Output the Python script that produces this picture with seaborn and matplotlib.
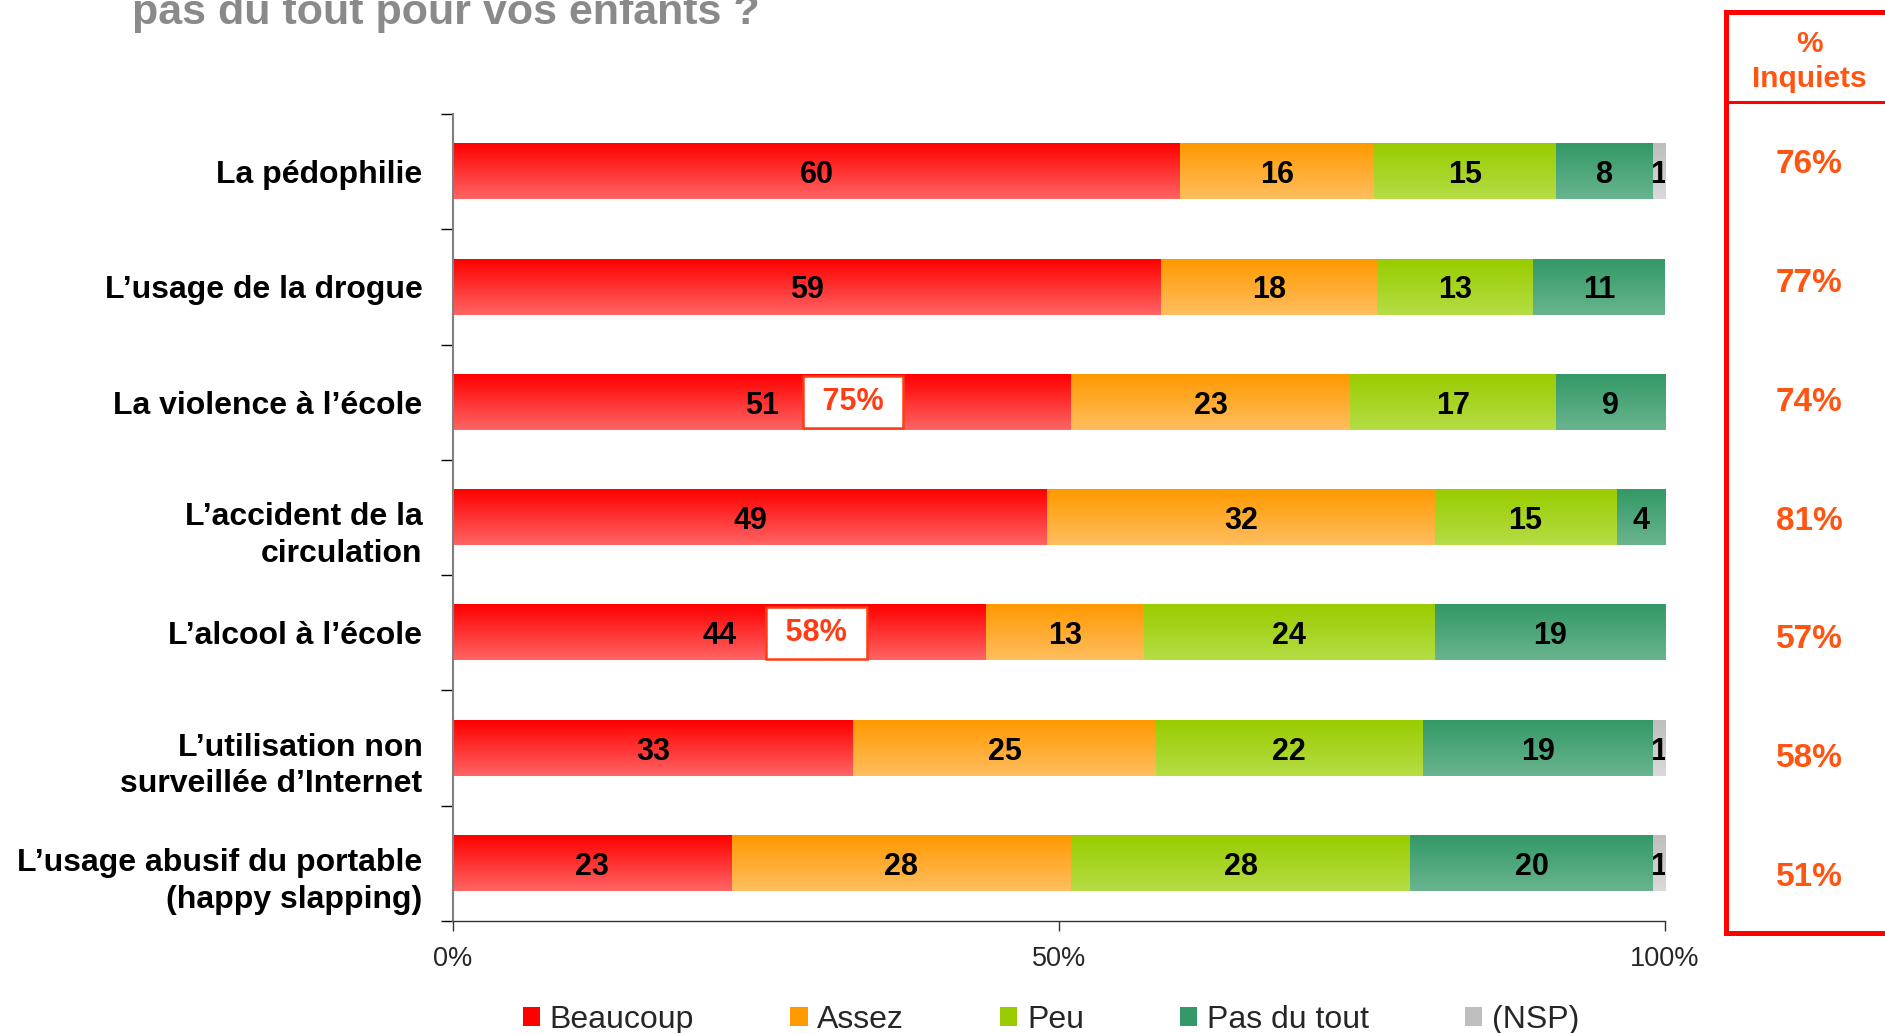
import numpy as np
import pandas as pd
import matplotlib
matplotlib.use("Agg")
import matplotlib.pyplot as plt
from matplotlib import font_manager
from matplotlib.colors import to_rgb
from matplotlib.patches import Patch
from matplotlib.transforms import ScaledTranslation
import seaborn as sns

# --- data ---
categories = [
    "La pédophilie",
    "L’usage de la drogue",
    "La violence à l’école",
    "L’accident de la\ncirculation",
    "L’alcool à l’école",
    "L’utilisation non\nsurveillée d’Internet",
    "L’usage abusif du portable\n(happy slapping)",
]
beaucoup = [60, 59, 51, 49, 44, 33, 23]
assez = [16, 18, 23, 32, 13, 25, 28]
peu = [15, 13, 17, 15, 24, 22, 28]
pas_du_tout = [8, 11, 9, 4, 19, 19, 20]
nsp = [1, 0, 0, 0, 0, 1, 1]
inquiets = [76, 77, 74, 81, 57, 58, 51]
series_names = ["Beaucoup", "Assez", "Peu", "Pas du tout", "(NSP)"]
callout_rows = ["La violence à l’école", "L’alcool à l’école"]
callout_labels = ["75%", "58%"]

# top / bottom colours of each gradient segment
grad_colors = {
    "Beaucoup": ("#FF0000", "#FF6464"),
    "Assez": ("#FF9900", "#FFBE5E"),
    "Peu": ("#99CC00", "#B5DD45"),
    "Pas du tout": ("#339966", "#69B48F"),
    "(NSP)": ("#BEBEBE", "#DADADA"),
}

sns.set_theme(style="white")
names = {f.name for f in font_manager.fontManager.ttflist}
NARROW = "Liberation Sans Narrow" in names
plt.rcParams["font.family"] = ["Liberation Sans", "DejaVu Sans"]
narrow_family = ["Liberation Sans Narrow", "Liberation Sans"] if NARROW else ["Liberation Sans", "DejaVu Sans"]

df = pd.DataFrame({
    "category": categories,
    "Beaucoup": beaucoup,
    "Assez": assez,
    "Peu": peu,
    "Pas du tout": pas_du_tout,
    "(NSP)": nsp,
})
totals = df[series_names].sum(axis=1)
shares = df[series_names].div(totals, axis=0) * 100
shares["category"] = df["category"]

W, H = 1885, 1033
fig = plt.figure(figsize=(W / 100, H / 100), dpi=100)
ax = fig.add_axes([453 / W, 1 - 921 / H, (1665 - 453) / W, (921 - 114) / H])


def gradient(top, bottom, n=64):
    t = np.linspace(0, 1, n)[:, None]
    c = (1 - t) * np.array(to_rgb(top)) + t * np.array(to_rgb(bottom))
    return c[:, None, :]


left = np.zeros(len(df))
for name in series_names:
    n0 = len(ax.patches)
    top, bottom = grad_colors[name]
    sns.barplot(data=shares, x=name, y="category", order=categories, orient="h",
                color=top, saturation=1, width=0.48, errorbar=None, ax=ax)
    for bar in ax.patches[n0:]:
        i = int(round(bar.get_y() + bar.get_height() / 2))
        w = bar.get_width()
        bar.set_x(left[i])
        x0, y0, h = left[i], bar.get_y(), bar.get_height()
        if w > 0:
            ax.imshow(gradient(top, bottom), extent=(x0, x0 + w, y0 + h, y0), origin="upper",
                      aspect="auto", interpolation="bilinear", zorder=2)
            raw = df.loc[i, name]
            ax.text(x0 + w / 2, i, f"{raw}", ha="center", va="center_baseline", fontsize=22,
                    fontweight="bold", color="black", clip_on=True, zorder=5)
        left[i] += w

# callout boxes inside the red bars
for row, lab, xpos in zip(callout_rows, callout_labels, [33, 30]):
    ax.text(xpos, categories.index(row), f" {lab} ", ha="center", va="center", fontsize=22,
            fontweight="bold", color="#FF3C14", zorder=6,
            bbox=dict(boxstyle="square,pad=0.36", facecolor="white", edgecolor="#FF3C14", linewidth=1.8))

ax.set_xlim(0, 100)
ax.set_ylim(len(categories) - 0.5, -0.5)
ax.set_xlabel("")
ax.set_ylabel("")
ax.set_xticks([0, 50, 100])
ax.set_xticklabels(["0%", "50%", "100%"], family=narrow_family)
ax.tick_params(axis="x", length=7, width=1, color="#333333", direction="out", pad=11,
               labelsize=22 if NARROW else 19.5, bottom=True)
ax.set_yticks(range(len(categories)))
ax.set_yticklabels(categories, fontsize=23, fontweight="bold", color="black", linespacing=1.3)
ax.tick_params(axis="y", length=0, pad=22)
ax.set_yticks(np.arange(-0.5, len(categories)), minor=True)
ax.tick_params(axis="y", which="minor", length=9, width=1, color="black", direction="out", left=True)
# two-line labels sit a little lower than their bar in the original
for lab in ax.get_yticklabels():
    if "\n" in lab.get_text():
        lab.set_transform(lab.get_transform() + ScaledTranslation(0, -11 / 100, fig.dpi_scale_trans))
for s in ["top", "right"]:
    ax.spines[s].set_visible(False)
ax.spines["left"].set_color("#808080")
ax.spines["left"].set_linewidth(1.5)
ax.spines["bottom"].set_color("#333333")
ax.spines["bottom"].set_linewidth(1)
ax.grid(False)

# title remnant at the top (cut off in the original)
fig.text(132 / W, 1 - 24 / H, "pas du tout pour vos enfants ?", ha="left", va="baseline",
         fontsize=38 if NARROW else 31, fontweight="bold", color="#8A8A8A", family=narrow_family)

# legend
handles = [Patch(facecolor=grad_colors[n][0], edgecolor="none") for n in series_names]
fig.legend(handles, series_names, loc="center", bbox_to_anchor=(1051 / W, 1 - 1020 / H), ncol=5,
           frameon=False, prop={"family": narrow_family, "size": 27 if NARROW else 23},
           handlelength=0.55, handleheight=0.55, handletextpad=0.3, columnspacing=3.0,
           borderpad=0, borderaxespad=0)

# "% Inquiets" panel on the right
red = "#FF0000"
orange = "#FF5511"
ax2 = fig.add_axes([1726 / W, 1 - 933 / H, 2 * 83 / W, (933 - 102) / H])
ax2.set_xlim(0, 1)
ax2.set_ylim(len(inquiets) - 0.5, -0.5)
ax2.set_xticks([])
ax2.set_yticks([])
ax2.patch.set_alpha(0)
ax2.spines["right"].set_visible(False)
for s in ["left", "bottom"]:
    ax2.spines[s].set_color(red)
    ax2.spines[s].set_linewidth(3.6)
ax2.spines["top"].set_color(red)
ax2.spines["top"].set_linewidth(2.2)
for i, v in enumerate(inquiets):
    ax2.text(0.5, i, f"{v}%", ha="center", va="center_baseline", fontsize=24, fontweight="bold",
             color=orange)

ax3 = fig.add_axes([1726 / W, 1 - 102 / H, 2 * 83 / W, (102 - 12) / H])
ax3.set_xticks([])
ax3.set_yticks([])
ax3.patch.set_alpha(0)
for s in ["right", "bottom"]:
    ax3.spines[s].set_visible(False)
for s in ["left", "top"]:
    ax3.spines[s].set_color(red)
    ax3.spines[s].set_linewidth(3.6)
ax3.text(0.5, 0.45, "%\nInquiets", ha="center", va="center", fontsize=21.5, fontweight="bold",
         color=orange, transform=ax3.transAxes, linespacing=1.3)

fig.savefig("out.png", dpi=100)
plt.close(fig)
